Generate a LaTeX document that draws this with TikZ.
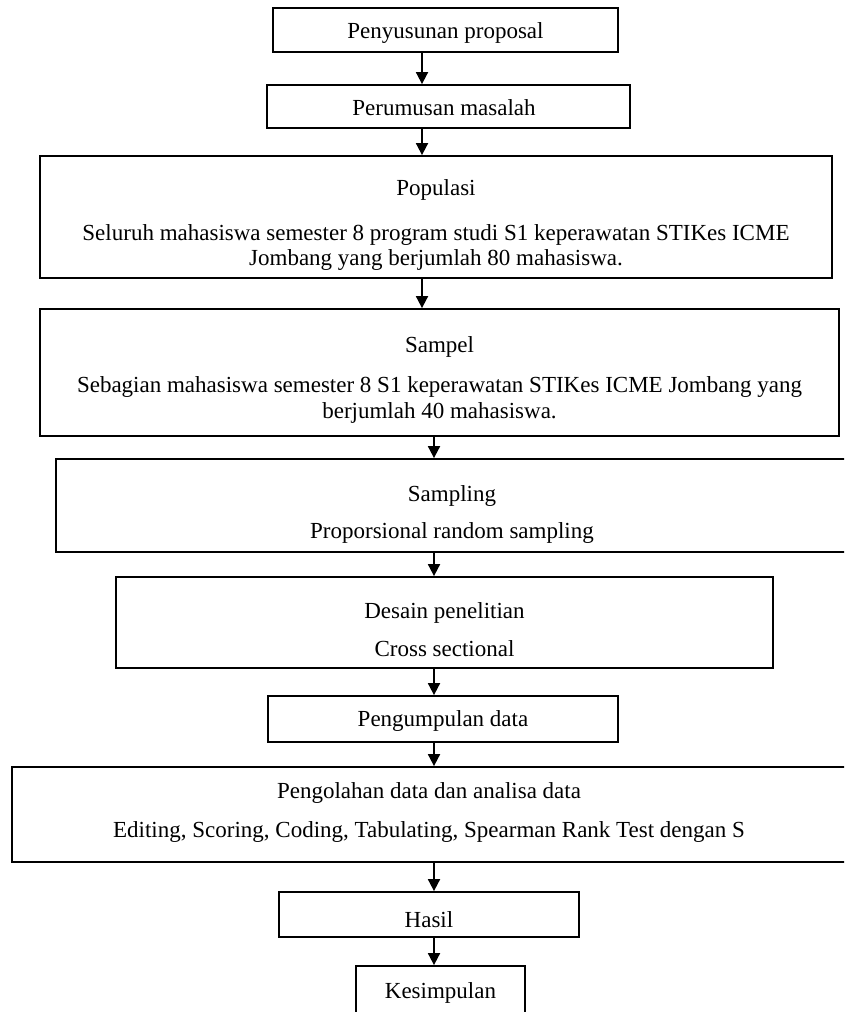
\documentclass[tikz,border=0pt]{standalone}
\usepackage{fontspec}
\setmainfont{Liberation Serif}
\usetikzlibrary{arrows.meta,fit}
\begin{document}
\begin{tikzpicture}[x=1pt,y=-1pt,
  box/.style={draw, line width=1.8pt, rectangle, inner sep=0pt},
  txt/.style={anchor=base, inner sep=0pt, font=\fontsize{23}{26}\selectfont},
  arr/.style={line width=1.8pt, -{Triangle[length=12pt,width=12pt]}}]
\useasboundingbox (0,0) rectangle (844,1012);
\clip (0,0) rectangle (844,1012);
% boxes
\node[box, fit={(273,8) (618,52)}] (b1) {};
\node[box, fit={(267,85) (630,128)}] (b2) {};
\node[box, fit={(40,156) (832,278)}] (b3) {};
\node[box, fit={(40,309) (839,436)}] (b4) {};
\node[box, fit={(56,459) (848,552)}] (b5) {};
\node[box, fit={(116,577) (773,668)}] (b6) {};
\node[box, fit={(268,696) (618,742)}] (b7) {};
\node[box, fit={(12,767) (846,862)}] (b8) {};
\node[box, fit={(279,892) (579,937)}] (b9) {};
\node[box, fit={(356,966) (525,1040)}] (b10) {};
% texts
\node[txt] (t1) at (445.5,38) {Penyusunan proposal};
\node[txt] (t2) at (444,115) {Perumusan masalah};
\node[txt] (t3a) at (436,195) {Populasi};
\node[txt] (t3b) at (436,240) {Seluruh mahasiswa semester 8 program studi S1 keperawatan STIKes ICME};
\node[txt] (t3c) at (436,265) {Jombang yang berjumlah 80 mahasiswa.};
\node[txt] (t4a) at (439.5,352) {Sampel};
\node[txt] (t4b) at (439.5,392) {Sebagian mahasiswa semester 8 S1 keperawatan STIKes ICME Jombang yang};
\node[txt] (t4c) at (439.5,418) {berjumlah 40 mahasiswa.};
\node[txt] (t5a) at (452,501) {Sampling};
\node[txt] (t5b) at (452,538) {Proporsional random sampling};
\node[txt] (t6a) at (444.5,618) {Desain penelitian};
\node[txt] (t6b) at (444.5,656) {Cross sectional};
\node[txt] (t7) at (443,726) {Pengumpulan data};
\node[txt] (t8a) at (429,798) {Pengolahan data dan analisa data};
\node[txt] (t8b) at (429,837) {Editing, Scoring, Coding, Tabulating, Spearman Rank Test dengan S};
\node[txt] (t9) at (429,927) {Hasil};
\node[txt] (t10) at (440.5,998) {Kesimpulan};
% arrows
\coordinate (ua) at (422,0);
\coordinate (la) at (434,0);
\draw[arr] (ua |- b1.south) -- (ua |- b2.north);
\draw[arr] (ua |- b2.south) -- (ua |- b3.north);
\draw[arr] (ua |- b3.south) -- (ua |- b4.north);
\draw[arr] (la |- b4.south) -- (la |- b5.north);
\draw[arr] (la |- b5.south) -- (la |- b6.north);
\draw[arr] (la |- b6.south) -- (la |- b7.north);
\draw[arr] (la |- b7.south) -- (la |- b8.north);
\draw[arr] (la |- b8.south) -- (la |- b9.north);
\draw[arr] (la |- b9.south) -- (la |- b10.north);
\end{tikzpicture}
\end{document}
